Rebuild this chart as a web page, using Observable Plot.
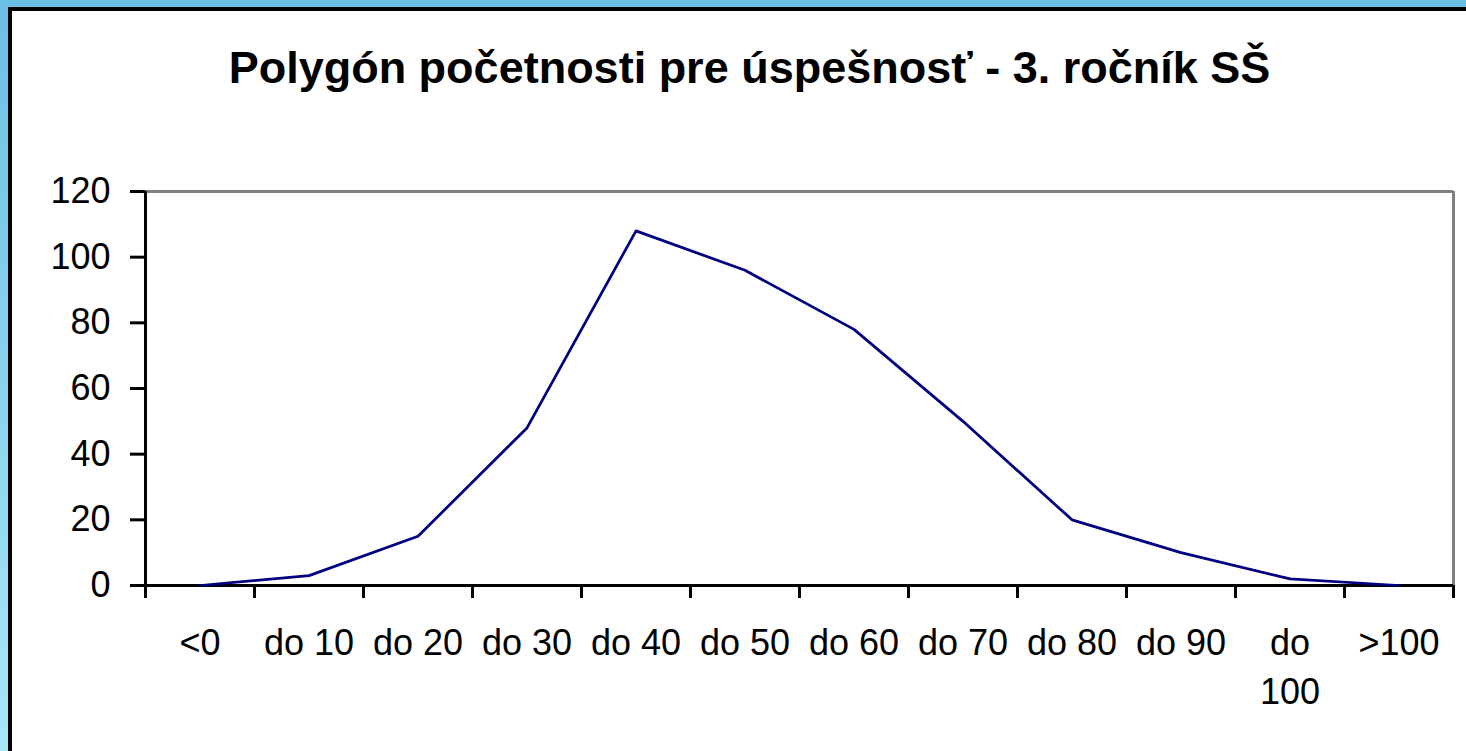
<!DOCTYPE html>
<html><head><meta charset="utf-8">
<script src="https://cdn.jsdelivr.net/npm/d3@7"></script>
<script src="https://cdn.jsdelivr.net/npm/@observablehq/plot@0.6"></script>
<style>
html,body{margin:0;padding:0;}
body{width:1466px;height:751px;overflow:hidden;position:relative;background:linear-gradient(to bottom,#6bbfe4,#a8e6f8);font-family:"Liberation Sans",Arial,sans-serif;}
#panel{position:absolute;left:8px;top:7px;right:0;bottom:0;background:#fff;border-left:4px solid #000;border-top:4px solid #000;overflow:hidden;}
#title{position:absolute;top:34px;left:0;width:1475px;text-align:center;font-weight:bold;font-size:45px;line-height:1;white-space:nowrap;color:#000;}
#chart{position:absolute;top:100px;left:0;}
</style></head>
<body>
<div id="panel"><div id="title">Polygón početnosti pre úspešnosť - 3. ročník SŠ</div><div id="chart"></div></div>
<script>
const categories = ["<0","do 10","do 20","do 30","do 40","do 50","do 60","do 70","do 80","do 90","do 100",">100"];
const counts = [0,3,15,48,108,96,78,50,20,10,2,0];
const yTicks = [0,20,40,60,80,100,120];

const data = categories.map((c,i)=>({cat:c, pos:i+0.5, n:counts[i]}));
const boundaries = d3.range(categories.length+1);

const plot = Plot.plot({
  width:1454, height:640, marginTop:80, marginBottom:166, marginLeft:133, marginRight:13,
  style:{fontFamily:"'Liberation Sans', Arial, sans-serif", fontSize:"36px", background:"transparent", color:"#000"},
  x:{domain:[0,categories.length], axis:null},
  y:{domain:[0,120], axis:null},
  marks:[
    Plot.ruleY([120],{stroke:"#808080",strokeWidth:3}),
    Plot.ruleX([categories.length],{stroke:"#808080",strokeWidth:3}),
    Plot.axisY(yTicks,{anchor:"left",label:null,tickSize:15,tickPadding:20,strokeWidth:3,fontSize:36}),
    Plot.axisX(boundaries,{anchor:"bottom",label:null,tickSize:13,tickFormat:()=>"",strokeWidth:3}),
    Plot.ruleX([0],{stroke:"#000",strokeWidth:3}),
    Plot.ruleY([0],{stroke:"#000",strokeWidth:3}),
    Plot.line(data,{x:"pos",y:"n",stroke:"#000080",strokeWidth:2.75}),
    Plot.text(data,{x:"pos",text:"cat",frameAnchor:"bottom",lineAnchor:"top",dy:35,lineWidth:2.9,lineHeight:1.36,fontSize:36,fill:"#000"})
  ]
});
document.getElementById("chart").appendChild(plot);
</script>
</body></html>
